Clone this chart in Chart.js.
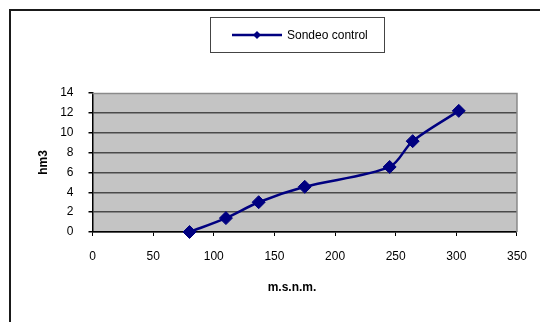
<!DOCTYPE html>
<html>
<head>
<meta charset="utf-8">
<script src="https://cdn.jsdelivr.net/npm/chart.js@4/dist/chart.umd.min.js"></script>
<style>
  html, body { margin: 0; padding: 0; background: #fff; }
  #wrap { width: 540px; height: 322px; position: relative; }
</style>
</head>
<body>
<div id="wrap"><canvas id="chart" width="540" height="322"></canvas></div>
<script>
// data
const seriesName = 'Sondeo control';
const elevation = [80, 110, 137, 175, 245, 264, 302];   // m.s.n.m.
const volume = [0, 1.4, 3.0, 4.55, 6.55, 9.15, 12.2];   // hm3
const xTitle = 'm.s.n.m.';
const yTitle = 'hm3';

const navy = '#000080';
const fontFamily = 'Arial, "Liberation Sans", sans-serif';

const points = elevation.map((x, i) => ({ x: x, y: volume[i] }));

// frame, gray plot background, legend box and x title
const decor = {
    id: 'decor',
    beforeDraw(chart) {
        const ctx = chart.ctx;
        const a = chart.chartArea;
        ctx.save();
        ctx.fillStyle = '#fff';
        ctx.fillRect(0, 0, chart.width, chart.height);
        ctx.fillStyle = '#c4c4c4';
        ctx.fillRect(a.left, a.top, a.right - a.left, a.bottom - a.top);
        ctx.restore();
    },
    beforeDatasetsDraw(chart) {
        const ctx = chart.ctx;
        const a = chart.chartArea;
        ctx.save();
        ctx.strokeStyle = '#8a8a8a';
        ctx.lineWidth = 1.5;
        ctx.beginPath();
        ctx.moveTo(a.left, a.top + 0.5);
        ctx.lineTo(a.right, a.top + 0.5);
        ctx.lineTo(a.right, a.bottom);
        ctx.stroke();
        ctx.restore();
    },
    afterDraw(chart) {
        const ctx = chart.ctx;
        const a = chart.chartArea;
        ctx.save();
        // outer frame
        ctx.strokeStyle = '#1a1a1a';
        ctx.lineWidth = 2;
        ctx.beginPath();
        ctx.moveTo(10, 323);
        ctx.lineTo(10, 10);
        ctx.lineTo(541, 10);
        ctx.stroke();

        // legend
        ctx.fillStyle = '#fff';
        ctx.fillRect(210.5, 17.5, 174, 35);
        ctx.strokeStyle = '#444';
        ctx.lineWidth = 1;
        ctx.strokeRect(210.5, 17.5, 174, 35);
        ctx.strokeStyle = navy;
        ctx.lineWidth = 2.5;
        ctx.beginPath();
        ctx.moveTo(232, 35);
        ctx.lineTo(282, 35);
        ctx.stroke();
        ctx.fillStyle = navy;
        ctx.beginPath();
        ctx.moveTo(257, 31);
        ctx.lineTo(261, 35);
        ctx.lineTo(257, 39);
        ctx.lineTo(253, 35);
        ctx.closePath();
        ctx.fill();
        ctx.fillStyle = '#000';
        ctx.font = '12px ' + fontFamily;
        ctx.textBaseline = 'middle';
        ctx.textAlign = 'left';
        ctx.fillText(chart.data.datasets[0].label, 287, 35.5);

        // x axis title
        ctx.font = 'bold 12px ' + fontFamily;
        ctx.textAlign = 'center';
        ctx.fillText(xTitle, 292, 288);
        ctx.restore();
    }
};

new Chart(document.getElementById('chart'), {
    type: 'scatter',
    data: {
        datasets: [{
            label: seriesName,
            data: points,
            showLine: true,
            borderColor: navy,
            backgroundColor: navy,
            borderWidth: 2.5,
            tension: 0.3,
            pointStyle: 'rectRot',
            pointRadius: 6.5,
            pointHoverRadius: 6.5,
            pointBorderWidth: 1,
            pointBorderColor: navy,
            pointBackgroundColor: navy,
            clip: false
        }]
    },
    options: {
        responsive: false,
        animation: false,
        devicePixelRatio: 1,
        layout: { padding: { left: 0, right: 21, top: 93, bottom: 0 } },
        plugins: {
            legend: { display: false },
            tooltip: { enabled: false }
        },
        scales: {
            x: {
                type: 'linear',
                min: 0,
                max: 350,
                afterFit(scale) { scale.height = 90; },
                ticks: {
                    stepSize: 50,
                    padding: 13,
                    color: '#000',
                    font: { family: fontFamily, size: 12 }
                },
                grid: {
                    drawOnChartArea: false,
                    drawTicks: true,
                    tickLength: 4,
                    color: '#000',
                    tickColor: '#000'
                },
                border: { display: true, color: '#000', width: 1.5 }
            },
            y: {
                type: 'linear',
                min: 0,
                max: 14,
                afterFit(scale) { scale.width = 92.5; },
                ticks: {
                    stepSize: 2,
                    padding: 15,
                    color: '#000',
                    font: { family: fontFamily, size: 12 }
                },
                grid: {
                    drawTicks: true,
                    tickLength: 4,
                    color: (c) => c.tick && c.tick.value === 14 ? 'rgba(0,0,0,0)' : '#4a4a4a',
                    lineWidth: 1.5,
                    tickColor: '#000'
                },
                border: { display: true, color: '#000', width: 1.5 },
                title: {
                    display: true,
                    text: yTitle,
                    color: '#000',
                    font: { family: fontFamily, size: 12, weight: 'bold' },
                    padding: { top: 36, bottom: 0 }
                }
            }
        }
    },
    plugins: [decor]
});
</script>
</body>
</html>
